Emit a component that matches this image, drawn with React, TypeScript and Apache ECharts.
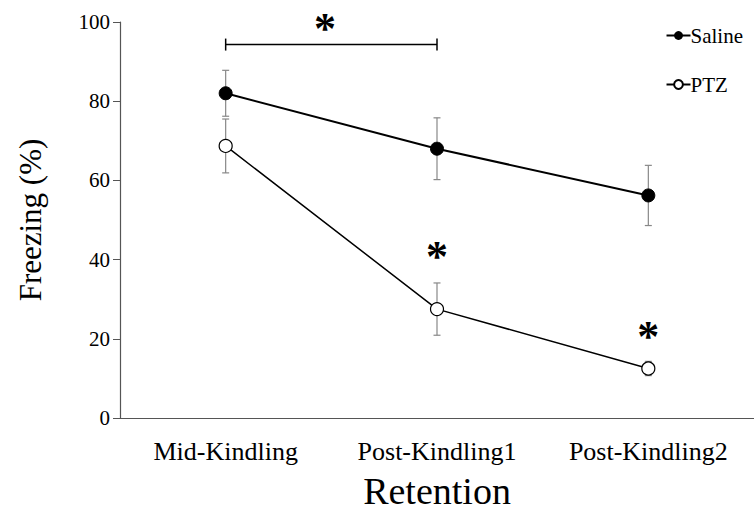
import React, { useEffect, useRef } from "react";
import * as echarts from "echarts";

const categories = ["Mid-Kindling", "Post-Kindling1", "Post-Kindling2"];
const salineMean = [82, 68, 56.2];
const salineErr = [5.8, 7.8, 7.6];
const ptzMean = [68.7, 27.5, 12.5];
const ptzErr = [6.8, 6.6, 1.8];
const yTicks = [0, 20, 40, 60, 80, 100];
// significance asterisks: [x position (category index), y value]
const asterisks = [
  [0.47, 98.3],
  [1, 40.7],
  [2, 20.5],
];
// bracket from category 0 to 1 at value
const bracket = [0, 1, 94.3];

const FONT = "'Liberation Serif', 'Times New Roman', Times, serif";

export default function App() {
  const ref = useRef<HTMLDivElement>(null);
  useEffect(() => {
    const chart = echarts.init(ref.current!, null, { renderer: "svg" });
    const errData: number[][] = [];
    salineMean.forEach((m, i) => errData.push([i, m - salineErr[i], m + salineErr[i]]));
    ptzMean.forEach((m, i) => errData.push([i, m - ptzErr[i], m + ptzErr[i]]));
    const option: any = {
      animation: false,
      backgroundColor: "#fff",
      textStyle: { fontFamily: FONT },
      grid: { left: 120, right: 0, top: 22, bottom: 108, containLabel: false, outerBoundsMode: "none" },
      legend: {
        orient: "vertical",
        right: 6,
        top: 20,
        itemGap: 28,
        itemWidth: 24,
        itemHeight: 11,
        data: ["Saline", "PTZ"],
        textStyle: { fontFamily: FONT, fontSize: 21, color: "#000", padding: [0, 0, 0, -5] },
      },
      xAxis: [
        {
          type: "category",
          data: categories,
          axisLine: { lineStyle: { color: "#555", width: 1.2 } },
          axisTick: { show: false },
          axisLabel: { fontFamily: FONT, fontSize: 26, color: "#000", margin: 20 },
          name: "Retention",
          nameLocation: "middle",
          nameGap: 54,
          nameTextStyle: { fontFamily: FONT, fontSize: 38, color: "#000" },
        },
        { type: "value", min: -0.5, max: 2.5, show: false },
      ],
      yAxis: {
        type: "value",
        min: 0,
        max: 100,
        interval: 20,
        splitLine: { show: false },
        axisLine: { show: true, onZero: false, lineStyle: { color: "#555", width: 1.2 } },
        axisTick: { show: true, inside: false, length: 7, lineStyle: { color: "#555" } },
        axisLabel: {
          fontFamily: FONT,
          fontSize: 21,
          color: "#000",
          margin: 10,
          formatter: (v: number) => (yTicks.includes(v) ? String(v) : ""),
        },
        name: "Freezing (%)",
        nameLocation: "middle",
        nameGap: 74,
        nameTextStyle: { fontFamily: FONT, fontSize: 31, color: "#000" },
      },
      series: [
        {
          type: "custom",
          xAxisIndex: 1,
          z: 1,
          data: errData,
          renderItem: (params: any, api: any) => {
            const x = api.value(0);
            const lo = api.coord([x, api.value(1)]);
            const hi = api.coord([x, api.value(2)]);
            const w = 3.5;
            const style = { stroke: "#888", lineWidth: 1.2 };
            return {
              type: "group",
              children: [
                { type: "line", shape: { x1: lo[0], y1: lo[1], x2: hi[0], y2: hi[1] }, style },
                { type: "line", shape: { x1: lo[0] - w, y1: lo[1], x2: lo[0] + w, y2: lo[1] }, style },
                { type: "line", shape: { x1: hi[0] - w, y1: hi[1], x2: hi[0] + w, y2: hi[1] }, style },
              ],
            };
          },
        },
        {
          name: "Saline",
          type: "line",
          z: 3,
          data: salineMean,
          symbol: "circle",
          symbolSize: 13,
          lineStyle: { color: "#000", width: 2 },
          itemStyle: { color: "#000", borderColor: "#000" },
        },
        {
          name: "PTZ",
          type: "line",
          z: 3,
          data: ptzMean,
          symbol: "circle",
          symbolSize: 13,
          lineStyle: { color: "#000", width: 1.5 },
          itemStyle: { color: "#fff", borderColor: "#000", borderWidth: 1.2 },
        },
        {
          type: "custom",
          xAxisIndex: 1,
          z: 4,
          data: asterisks,
          renderItem: (params: any, api: any) => {
            const p = api.coord([api.value(0), api.value(1)]);
            return {
              type: "text",
              x: p[0],
              y: p[1],
              style: {
                text: "*",
                fontFamily: FONT,
                fontSize: 44,
                fontWeight: "bold",
                fill: "#000",
                align: "center",
                verticalAlign: "middle",
              },
            };
          },
        },
        {
          type: "custom",
          xAxisIndex: 1,
          z: 4,
          data: [bracket],
          renderItem: (params: any, api: any) => {
            const a = api.coord([api.value(0), api.value(2)]);
            const b = api.coord([api.value(1), api.value(2)]);
            const h = 6;
            const style = { stroke: "#000", lineWidth: 1.5 };
            return {
              type: "group",
              children: [
                { type: "line", shape: { x1: a[0], y1: a[1], x2: b[0], y2: b[1] }, style },
                { type: "line", shape: { x1: a[0], y1: a[1] - h, x2: a[0], y2: a[1] + h }, style },
                { type: "line", shape: { x1: b[0], y1: b[1] - h, x2: b[0], y2: b[1] + h }, style },
              ],
            };
          },
        },
      ],
    };
    chart.setOption(option);
    return () => chart.dispose();
  }, []);
  return <div ref={ref} style={{ width: 754, height: 526, position: "absolute", left: 0, top: 0 }} />;
}
